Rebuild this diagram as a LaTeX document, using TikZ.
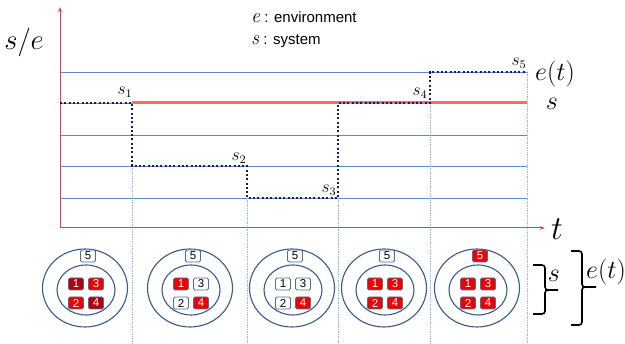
\documentclass[tikz,border=0pt]{standalone}
\usepackage{amsmath}
\usepackage{fontspec}
\setsansfont{Liberation Sans}
\usetikzlibrary{arrows.meta,positioning}

\definecolor{axisred}{RGB}{245,55,55}
\definecolor{sysred}{RGB}{255,105,105}
\definecolor{gridblue}{RGB}{95,140,200}
\definecolor{tickblue}{RGB}{150,180,225}
\definecolor{stepnavy}{RGB}{20,30,95}
\definecolor{ringblue}{RGB}{55,90,140}
\definecolor{redon}{RGB}{240,0,0}
\definecolor{reddark}{RGB}{180,0,10}
\definecolor{boxline}{RGB}{80,110,150}

\tikzset{
  axisline/.style={axisred,line width=1pt,-{Stealth[length=5pt,width=3.5pt]}},
  gridline/.style={gridblue,line width=0.9pt},
  sysline/.style={sysred,line width=3pt},
  tickline/.style={tickblue,line width=0.7pt,densely dotted},
  stairline/.style={stepnavy,line width=2.2pt,dash pattern=on 2pt off 2.3pt},
  steplabel/.style={font=\large,scale=1.45,inner sep=0pt},
  biglab/.style={font=\Huge,scale=1.05,inner sep=0pt},
  legend/.style={font=\sffamily\fontsize{15}{15}\selectfont,inner sep=0pt},
  ring/.style={ringblue,line width=1.1pt},
  box/.style={draw=boxline,line width=0.8pt,rounded corners=1.5pt,minimum width=15pt,
    minimum height=12pt,inner sep=0pt,font=\sffamily\fontsize{11.5}{11.5}\selectfont},
  boxon/.style={fill=redon,text=white},
  boxdk/.style={fill=reddark,text=white},
  boxoff/.style={fill=white,text=black},
  brace/.style={black,line width=1.6pt,rounded corners=3pt}
}
\newcommand{\itsym}[1]{{\rmfamily\itshape\fontsize{20}{20}\selectfont #1}}

\begin{document}
\begin{tikzpicture}[x=1pt,y=-1pt]
  \useasboundingbox (0,0) rectangle (625,344);

  % axes
  \coordinate (origin) at (60,228);
  \coordinate (ytop) at (60,7);
  \coordinate (xend) at (545,228);

  \foreach \y in {72,103,135,166,198}
    \draw[gridline] (60,\y) -- (527,\y);
  \draw[sysline] (132,103) -- (527,103);

  % time marks
  \foreach \x/\y in {132/166,247/198,338/198,430/103,527/72}
    \draw[tickline] (\x,\y) -- (\x,343);

  \draw[axisline] (origin) -- (ytop);
  \draw[axisline] (origin) -- (xend);

  % state of the system
  \coordinate (c0) at (60,103);
  \coordinate (c1) at (132,103);
  \coordinate (c2) at (247,166);
  \coordinate (c3) at (338,198);
  \coordinate (c4) at (430,103);
  \coordinate (c5) at (527,72);
  \draw[stairline] (c0) -- (c1) |- (c2) |- (c3) |- (c4) |- (c5);

  \node[steplabel] (l1) at (125,92) {$s_1$};
  \node[steplabel] (l2) at (239,158) {$s_2$};
  \node[steplabel] (l3) at (329,190) {$s_3$};
  \node[steplabel] (l4) at (420,93) {$s_4$};
  \node[steplabel] (l5) at (519,63) {$s_5$};

  \node[biglab,scale=1.1] (ylab) at (24,42) {$s/e$};
  \node[font=\Huge,scale=1.35,inner sep=0pt] (tlab) at (557,229) {$t$};
  \node[biglab,anchor=west] (elab) at (535,74) {$e(t)$};
  \node[biglab] (slab) at (552,104) {$s$};

  \node[legend,anchor=base west] (leg1) at (251,23) {\itsym{e} : environment};
  \node[legend,anchor=base west] (leg2) at (251,45) {\itsym{s} : system};

  % panels
  \foreach \cx/\i/\sa/\sb/\sc/\sd/\se in {85/1/boxdk/boxon/boxon/boxdk/boxoff,
      190/2/boxon/boxoff/boxoff/boxon/boxoff,292/3/boxoff/boxoff/boxoff/boxon/boxoff,
      384/4/boxon/boxon/boxon/boxon/boxoff,477/5/boxon/boxon/boxon/boxon/boxon}{
    \draw[ring] (\cx,288) ellipse [x radius=42.5pt, y radius=39pt];
    \draw[ring] (\cx+1,290) ellipse [x radius=29pt, y radius=25pt];
    \node[box,\se] (p\i-5) at (\cx+3,256) {5};
    \node[box,\sa] (p\i-1) at (\cx-9,284) {1};
    \node[box,\sc] (p\i-3) at (\cx+11,284) {3};
    \node[box,\sb] (p\i-2) at (\cx-9,303) {2};
    \node[box,\sd] (p\i-4) at (\cx+11,303) {4};
  }

  % braces
  \draw[brace] (533,265) -- (545,265) -- (545,290) -- (558,290)
               (558,290) -- (545,290) -- (545,314) -- (533,314);
  \draw[brace] (571,251) -- (582,251) -- (582,287) -- (596,287)
               (596,287) -- (582,287) -- (582,325) -- (571,325);
  \node[biglab] (bs) at (554,276) {$s$};
  \node[biglab,anchor=west] (be) at (586,272) {$e(t)$};
\end{tikzpicture}
\end{document}
